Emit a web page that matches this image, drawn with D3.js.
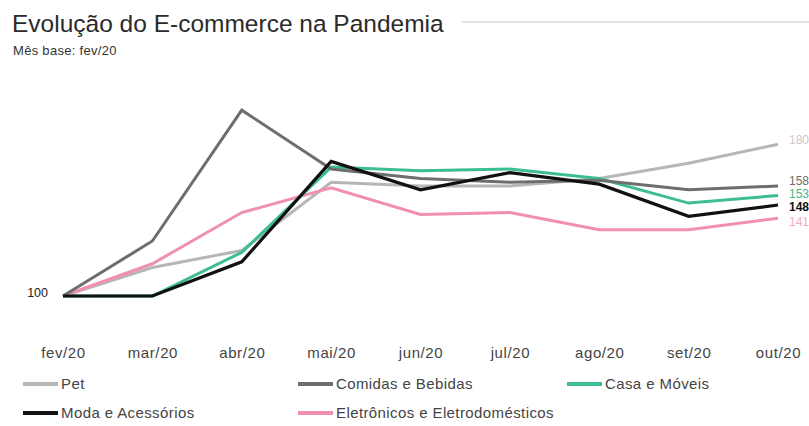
<!DOCTYPE html>
<html>
<head>
<meta charset="utf-8">
<script src="https://cdn.jsdelivr.net/npm/d3@7"></script>
<style>
  html, body { margin: 0; padding: 0; background: #fff; }
  svg { display: block; font-family: "Liberation Sans", Arial, sans-serif; }
</style>
</head>
<body>
<svg id="chart" width="809" height="426"></svg>
<script>
// Months (base month = fev/20, index 100)
const months = ["fev/20", "mar/20", "abr/20", "mai/20", "jun/20", "jul/20", "ago/20", "set/20", "out/20"];

// Index values per segment
const pet         = [100, 115, 124, 160, 158, 158, 162, 170, 180];
const comidas     = [100, 129, 198, 167, 162, 160, 161, 156, 158];
const casa        = [100, 100, 123, 168, 166, 167, 162, 149, 153];
const moda        = [100, 100, 118, 171, 156, 165, 159, 142, 148];
const eletronicos = [100, 117, 144, 157, 143, 144, 135, 135, 141];

const seriesNames  = ["Pet", "Comidas e Bebidas", "Casa e Móveis", "Moda e Acessórios", "Eletrônicos e Eletrodomésticos"];
const seriesValues = [pet, comidas, casa, moda, eletronicos];
const seriesColors = ["#b6b6b6", "#6e6e6e", "#3dbd93", "#111111", "#f08fae"];
// small vertical nudges so the end labels do not collide
const labelNudge   = [-5, -5, -2, 2, 4];

const svg = d3.select("#chart");

// Title, rule and subtitle
svg.append("text")
  .attr("x", 12).attr("y", 32)
  .attr("font-size", 24.5)
  .attr("fill", "#2b2b2b")
  .text("Evolução do E-commerce na Pandemia");

svg.append("line")
  .attr("x1", 462).attr("x2", 809)
  .attr("y1", 22).attr("y2", 22)
  .attr("stroke", "#c4c4c4").attr("stroke-width", 1);

svg.append("text")
  .attr("x", 13).attr("y", 55)
  .attr("font-size", 13)
  .attr("letter-spacing", 0.3)
  .attr("fill", "#333")
  .text("Mês base: fev/20");

// Scales
const x = d3.scalePoint().domain(months).range([63, 778]);
const y = d3.scaleLinear().domain([100, 180]).range([296, 144.3]);

// X axis (labels only)
const xAxis = svg.append("g")
  .attr("transform", "translate(0,347)")
  .call(d3.axisBottom(x).tickSize(0).tickPadding(0));
xAxis.attr("font-family", null);
xAxis.select(".domain").remove();
xAxis.selectAll("text")
  .attr("font-size", 15)
  .attr("letter-spacing", 0.6)
  .attr("fill", "#444")
  .attr("dy", "0.71em");

// Base value label
svg.append("text")
  .attr("x", 48).attr("y", y(100) - 3)
  .attr("dy", "0.35em")
  .attr("text-anchor", "end")
  .attr("font-size", 12.5)
  .attr("fill", "#222")
  .text("100");

// Lines
const line = d3.line()
  .x((d, i) => x(months[i]))
  .y(d => y(d));

const drawOrder = [0, 4, 2, 1, 3];
drawOrder.forEach(k => {
  svg.append("path")
    .datum(seriesValues[k])
    .attr("fill", "none")
    .attr("stroke", seriesColors[k])
    .attr("stroke-width", k === 3 ? 3.2 : 3)
    .attr("stroke-linejoin", "miter")
    .attr("d", line);
});

// End-of-line value labels
seriesValues.forEach((vals, k) => {
  const last = vals[vals.length - 1];
  svg.append("text")
    .attr("x", 789)
    .attr("y", y(last) + labelNudge[k])
    .attr("dy", "0.35em")
    .attr("font-size", 12)
    .attr("font-weight", k === 3 ? "bold" : "normal")
    .attr("fill", k === 0 ? "#cacaca" : (k === 4 ? "#f4abc2" : seriesColors[k]))
    .text(last);
});

// Legend
const legendPos = [
  { lx: 23, ly: 384 },
  { lx: 298, ly: 384 },
  { lx: 567, ly: 384 },
  { lx: 23, ly: 413 },
  { lx: 298, ly: 413 }
];
const legend = svg.append("g");
seriesNames.forEach((name, k) => {
  const p = legendPos[k];
  legend.append("line")
    .attr("x1", p.lx).attr("x2", p.lx + 35)
    .attr("y1", p.ly).attr("y2", p.ly)
    .attr("stroke", seriesColors[k])
    .attr("stroke-width", 4);
  legend.append("text")
    .attr("x", p.lx + 38).attr("y", p.ly)
    .attr("dy", "0.35em")
    .attr("font-size", 15)
    .attr("letter-spacing", 0.4)
    .attr("fill", "#444")
    .text(name);
});
</script>
</body>
</html>
